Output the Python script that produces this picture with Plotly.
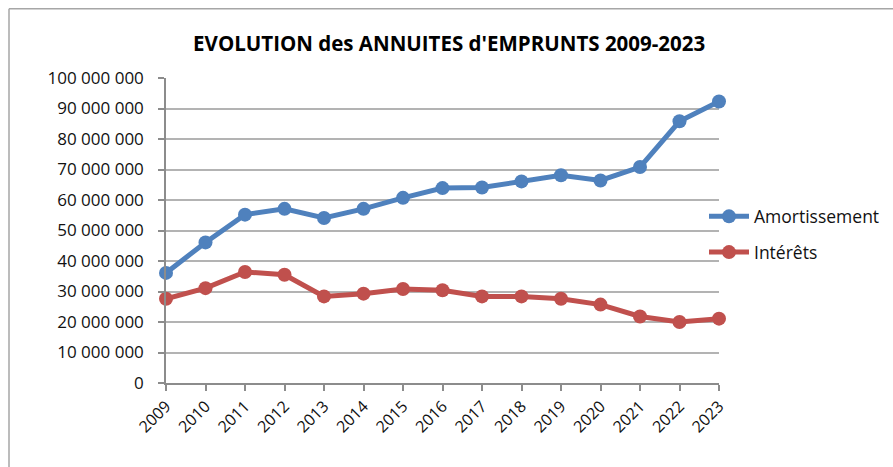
import plotly.graph_objects as go

# Annual loan repayments, in euros
years = list(range(2009, 2024))
amortissement = [36.1e6, 46.1e6, 55.2e6, 57.1e6, 54.1e6, 57.1e6, 60.7e6, 63.9e6,
                 64.1e6, 66.1e6, 68.1e6, 66.4e6, 70.8e6, 85.8e6, 92.3e6]
interets = [27.6e6, 31.1e6, 36.4e6, 35.5e6, 28.4e6, 29.3e6, 30.8e6, 30.4e6,
            28.4e6, 28.4e6, 27.6e6, 25.7e6, 21.8e6, 20.0e6, 21.1e6]

y_ticks = [i * 10_000_000 for i in range(11)]
y_labels = ["0", "10 000 000", "20 000 000", "30 000 000", "40 000 000", "50 000 000",
            "60 000 000", "70 000 000", "80 000 000", "90 000 000", "100 000 000"]

BLUE = "#4F81BD"
RED = "#C0504D"
FONT = "'Open Sans', 'Liberation Sans', sans-serif"
TEXT = "#111111"

fig = go.Figure()
fig.add_trace(go.Scatter(
    x=years, y=amortissement, name="Amortissement", mode="lines+markers",
    line=dict(color=BLUE, width=5), marker=dict(color=BLUE, size=14),
    cliponaxis=False, legendgroup="a",
))
fig.add_trace(go.Scatter(
    x=years, y=interets, name="Intérêts", mode="lines+markers",
    line=dict(color=RED, width=5), marker=dict(color=RED, size=14),
    cliponaxis=False, legendgroup="b",
))

axis_grey = "#8c8c8c"
fig.update_layout(
    width=893, height=467,
    margin=dict(l=166, r=174, t=78, b=84, autoexpand=False),
    paper_bgcolor="white", plot_bgcolor="white",
    font=dict(family=FONT, size=16, color=TEXT),
    title=dict(text="<b>EVOLUTION des ANNUITES d'EMPRUNTS 2009-2023</b>",
               x=0.503, xref="container", xanchor="center",
               y=1 - 44 / 467, yref="container", yanchor="middle",
               font=dict(family=FONT, size=20.5, color="#000000")),
    xaxis=dict(range=[2009, 2023], tickvals=years, ticktext=[str(y) for y in years],
               tickangle=-45, showgrid=False, zeroline=False,
               showline=True, linecolor=axis_grey, linewidth=1.5,
               ticks="outside", ticklen=6, tickcolor=axis_grey, tickwidth=1.5,
               tickfont=dict(size=16, color=TEXT)),
    yaxis=dict(range=[0, 100_000_000], tickvals=y_ticks, ticktext=y_labels,
               showgrid=True, gridcolor="#b3b3b3", gridwidth=1.5, zeroline=False,
               showline=True, linecolor=axis_grey, linewidth=1.5,
               ticks="outside", ticklen=6, tickcolor=axis_grey, tickwidth=1.5,
               ticklabelstandoff=11, tickfont=dict(size=17, color=TEXT)),
    legend=dict(x=1 - 15 / 553, xanchor="left", y=0.605, yanchor="top",
                font=dict(size=17.5, color=TEXT), tracegroupgap=10,
                itemwidth=40, bgcolor="rgba(0,0,0,0)"),
    showlegend=True,
    shapes=[
        dict(type="line", xref="paper", yref="paper",
             x0=(9 - 166) / 553, x1=(9 - 166) / 553,
             y0=(383.3 - 9) / 305, y1=-0.4,
             line=dict(color="#a6a6a6", width=1.5)),
        dict(type="line", xref="paper", yref="paper",
             x0=(9 - 166) / 553, x1=1.4,
             y0=(383.3 - 9) / 305, y1=(383.3 - 9) / 305,
             line=dict(color="#a6a6a6", width=1.5)),
    ],
)

fig.write_html("out.html")
